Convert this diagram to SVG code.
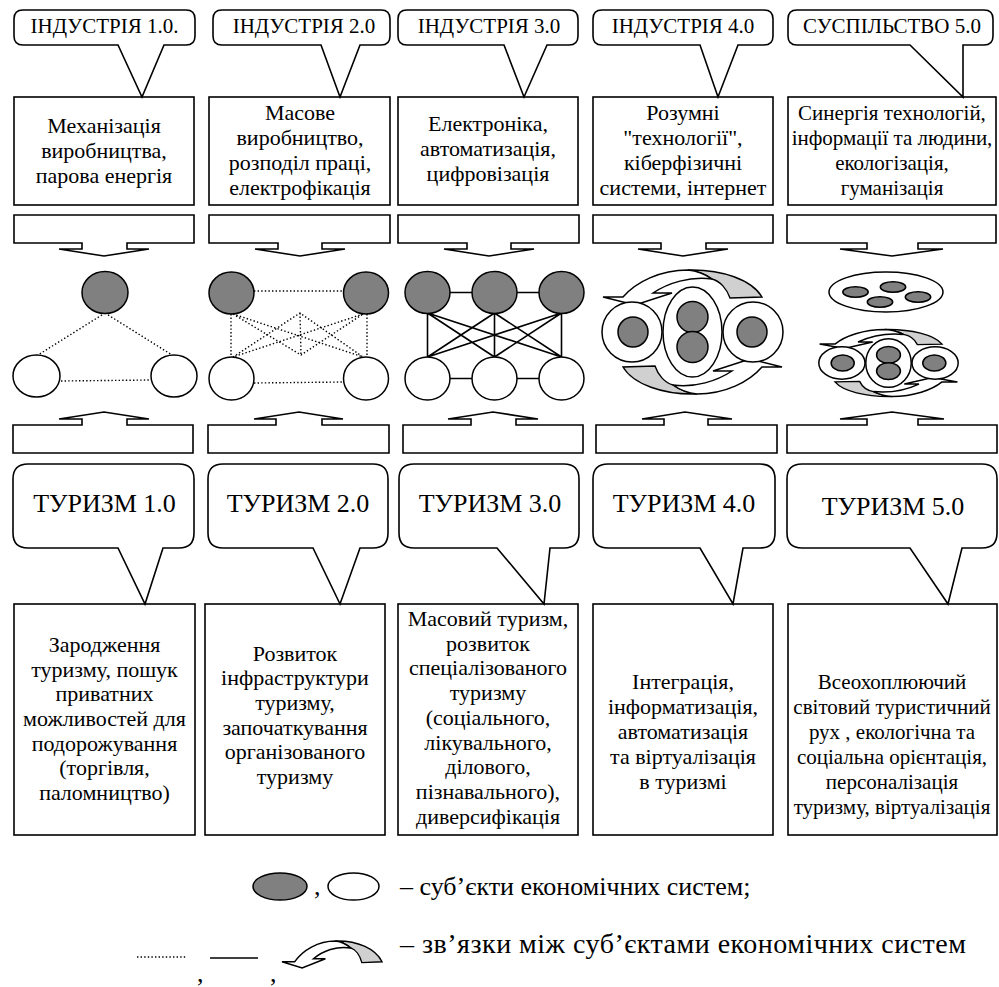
<svg xmlns="http://www.w3.org/2000/svg" xmlns:xlink="http://www.w3.org/1999/xlink" width="999" height="987" viewBox="0 0 999 987">
<style>
.b{fill:#fff;stroke:#000;stroke-width:1.6}
.g{fill:#808080;stroke:#000;stroke-width:1.5;vector-effect:non-scaling-stroke}
.w{fill:#fff;stroke:#000;stroke-width:1.5;vector-effect:non-scaling-stroke}
.lg{fill:#d0d0d0;stroke:#000;stroke-width:1.4;vector-effect:non-scaling-stroke}
.dot{stroke:#000;stroke-width:1.4;stroke-dasharray:1.4 2.2;fill:none}
.sol{stroke:#000;stroke-width:1.6;fill:none}
text{font-family:"Liberation Serif","Times New Roman",serif;fill:#000}
.t{font-size:22px;text-anchor:middle}
.t5{font-size:21px;text-anchor:middle}
.h{font-size:21px;text-anchor:middle}
.tz{font-size:26px;text-anchor:middle}
.lt{font-size:26px}
.lt2{font-size:28px}
</style>
<defs>
<g id="carrow">
<path class="lg" d="M688,270 C722,269 752,280 762,297 L730,298 C727,289 720,281 712,279 C705,274 697,271 688,270 Z"/>
<path class="w" d="M603,297 L635,305 L672,293 L653,293 C668,283 690,276 712,279 C705,274 697,271 688,270 C660,270 636,282 623,297 Z"/>
</g>
<g id="cyc">
<use xlink:href="#carrow"/>
<use xlink:href="#carrow" transform="rotate(180 692.5 332)"/>
<circle class="w" cx="632" cy="332" r="30"/>
<circle class="g" cx="633" cy="332" r="15"/>
<ellipse class="w" cx="692.5" cy="332" rx="29.5" ry="45"/>
<circle class="g" cx="692.5" cy="317" r="15.5"/>
<circle class="g" cx="692.5" cy="347" r="15.5"/>
<circle class="w" cx="753" cy="332" r="30"/>
<circle class="g" cx="752" cy="332" r="15"/>
</g>
</defs>

<g id="connectors">
<path class="b" d="M14,215 H194 V243 H127 V249 H149 L104,256 L59,249 H82 V243 H14 Z"/>
<path class="b" d="M209,215 H390 V243 H322 V249 H345 L300,256 L255,249 H278 V243 H209 Z"/>
<path class="b" d="M398,215 H579 V243 H511 V249 H534 L489,256 L444,249 H467 V243 H398 Z"/>
<path class="b" d="M593,215 H773 V243 H706 V249 H728 L683,256 L638,249 H661 V243 H593 Z"/>
<path class="b" d="M787,215 H996 V243 H918 V249 H943 L892,256 L840,249 H867 V243 H787 Z"/>
<path class="b" d="M13,453 H193 V425 H127 V419 H149 L104,412 L59,419 H82 V425 H13 Z"/>
<path class="b" d="M208,453 H389 V425 H322 V419 H343 L299,412 L254,419 H276 V425 H208 Z"/>
<path class="b" d="M403,453 H583 V425 H516 V419 H538 L493,412 L448,419 H471 V425 H403 Z"/>
<path class="b" d="M596,453 H777 V425 H708 V419 H732 L685,412 L642,419 H664 V425 H596 Z"/>
<path class="b" d="M787,453 H997 V425 H918 V419 H944 L892,412 L840,419 H867 V425 H787 Z"/>
</g>

<g id="ind1">
<rect class="b" x="14" y="97" width="180" height="108"/>
<path class="b" d="M23,10 H186 Q195,10 195,19 V36 Q195,45 186,45 H164 L142,97 L118,45 H23 Q14,45 14,36 V19 Q14,10 23,10 Z"/>
<text class="h" x="104.5" y="33">ІНДУСТРІЯ 1.0.</text>
<text class="t" x="104" y="133">Механізація</text>
<text class="t" x="104" y="158">виробництва,</text>
<text class="t" x="104" y="183">парова енергія</text>
</g>
<g id="ind2">
<rect class="b" x="209" y="97" width="181" height="108"/>
<path class="b" d="M222,10 H381 Q390,10 390,19 V36 Q390,45 381,45 H360 L340,97 L321,45 H222 Q213,45 213,36 V19 Q213,10 222,10 Z"/>
<text class="h" x="304" y="33">ІНДУСТРІЯ 2.0</text>
<text class="t" x="300" y="120">Масове</text>
<text class="t" x="300" y="145">виробництво,</text>
<text class="t" x="300" y="170">розподіл праці,</text>
<text class="t" x="300" y="195">електрофікація</text>
</g>
<g id="ind3">
<rect class="b" x="398" y="97" width="180" height="108"/>
<path class="b" d="M407,10 H569 Q578,10 578,19 V36 Q578,45 569,45 H547 L524,97 L504,45 H407 Q398,45 398,36 V19 Q398,10 407,10 Z"/>
<text class="h" x="489" y="33">ІНДУСТРІЯ 3.0</text>
<text class="t" x="488" y="131">Електроніка,</text>
<text class="t" x="488" y="156">автоматизація,</text>
<text class="t" x="488" y="181">цифровізація</text>
</g>
<g id="ind4">
<rect class="b" x="593" y="97" width="180" height="108"/>
<path class="b" d="M602,10 H764 Q773,10 773,19 V36 Q773,45 764,45 H738 L718,97 L700,45 H602 Q593,45 593,36 V19 Q593,10 602,10 Z"/>
<text class="h" x="683" y="33">ІНДУСТРІЯ 4.0</text>
<text class="t" x="683" y="120">Розумні</text>
<text class="t" x="683" y="145">"технології",</text>
<text class="t" x="683" y="170">кіберфізичні</text>
<text class="t" x="683" y="195">системи, інтернет</text>
</g>
<g id="soc5">
<rect class="b" x="788" y="97" width="208" height="108"/>
<path class="b" d="M797,10 H984 Q993,10 993,19 V36 Q993,45 984,45 H963 L963,97 L910,45 H797 Q788,45 788,36 V19 Q788,10 797,10 Z"/>
<text class="h" x="892" y="33">СУСПІЛЬСТВО 5.0</text>
<text class="t5" x="892" y="120">Синергія технологій,</text>
<text class="t5" x="892" y="145">інформації та людини,</text>
<text class="t5" x="892" y="170">екологізація,</text>
<text class="t5" x="892" y="195">гуманізація</text>
</g>

<g id="net1">
<line class="dot" x1="105" y1="313" x2="38" y2="355"/>
<line class="dot" x1="105" y1="313" x2="172" y2="355"/>
<line class="dot" x1="61" y1="381" x2="151" y2="380"/>
<ellipse class="g" cx="105" cy="292.5" rx="23" ry="21"/>
<ellipse class="w" cx="36.5" cy="376" rx="23.5" ry="21"/>
<ellipse class="w" cx="174" cy="376" rx="23" ry="21"/>
</g>
<g id="net2">
<line class="dot" x1="254" y1="291" x2="344" y2="291"/>
<line class="dot" x1="254" y1="383" x2="344" y2="382"/>
<line class="dot" x1="231" y1="314" x2="231" y2="357"/>
<line class="dot" x1="367" y1="314" x2="367" y2="357"/>
<line class="dot" x1="233" y1="314" x2="363" y2="357"/>
<line class="dot" x1="363" y1="314" x2="233" y2="357"/>
<polyline class="dot" points="233,357 300,313 363,357"/>
<polyline class="dot" points="233,314 301,355 363,314"/>
<line class="dot" x1="300" y1="313" x2="301" y2="355"/>
<ellipse class="g" cx="231.5" cy="293" rx="22.5" ry="21"/>
<ellipse class="g" cx="366" cy="293" rx="22.5" ry="21"/>
<ellipse class="w" cx="231.5" cy="378.5" rx="22.5" ry="21.5"/>
<ellipse class="w" cx="366" cy="378.5" rx="22.5" ry="21.5"/>
</g>
<g id="net3">
<path class="sol" d="M427.5,292.5 H561.5 M427.5,378.5 H561.5 M427.5,313 V357 M494.5,313 V357 M561.5,313 V357 M427.5,313 L494.5,357 M427.5,313 L561.5,357 M494.5,313 L427.5,357 M494.5,313 L561.5,357 M561.5,313 L427.5,357 M561.5,313 L494.5,357"/>
<ellipse class="g" cx="427.5" cy="292.5" rx="22.5" ry="21"/>
<ellipse class="g" cx="494.5" cy="292.5" rx="22.5" ry="21"/>
<ellipse class="g" cx="561.5" cy="292.5" rx="22.5" ry="21"/>
<ellipse class="w" cx="427.5" cy="378.5" rx="22.5" ry="21.5"/>
<ellipse class="w" cx="494.5" cy="378.5" rx="22.5" ry="21.5"/>
<ellipse class="w" cx="561.5" cy="378.5" rx="22.5" ry="21.5"/>
</g>
<g id="net4">
<use xlink:href="#cyc"/>
</g>
<g id="net5">
<ellipse class="w" cx="886" cy="292" rx="57" ry="20"/>
<ellipse class="g" cx="855.5" cy="292" rx="12.7" ry="5.3"/>
<ellipse class="g" cx="893" cy="287" rx="12.7" ry="5.3"/>
<ellipse class="g" cx="880" cy="302" rx="12.7" ry="5.3"/>
<ellipse class="g" cx="918" cy="297" rx="12.7" ry="5.3"/>
<use xlink:href="#cyc" transform="translate(888.5 363) scale(0.77 0.54) translate(-692.5 -332)"/>
</g>

<g id="tour1">
<rect class="b" x="14" y="604" width="181" height="231"/>
<path class="b" d="M28,464 H179 Q194,464 194,479 V533 Q194,548 179,548 H163 L145,604 L118,548 H28 Q13,548 13,533 V479 Q13,464 28,464 Z"/>
<text class="tz" x="104.5" y="512">ТУРИЗМ 1.0</text>
<text class="t" x="104.5" y="652">Зародження</text>
<text class="t" x="104.5" y="677">туризму, пошук</text>
<text class="t" x="104.5" y="701">приватних</text>
<text class="t" x="104.5" y="726">можливостей для</text>
<text class="t" x="104.5" y="751">подорожування</text>
<text class="t" x="104.5" y="775">(торгівля,</text>
<text class="t" x="104.5" y="800">паломництво)</text>
</g>
<g id="tour2">
<rect class="b" x="205" y="604" width="180" height="231"/>
<path class="b" d="M223,464 H373 Q388,464 388,479 V533 Q388,548 373,548 H360 L340,604 L313,548 H223 Q208,548 208,533 V479 Q208,464 223,464 Z"/>
<text class="tz" x="298" y="512">ТУРИЗМ 2.0</text>
<text class="t" x="295" y="661">Розвиток</text>
<text class="t" x="295" y="685">інфраструктури</text>
<text class="t" x="295" y="710">туризму,</text>
<text class="t" x="295" y="735">започаткування</text>
<text class="t" x="295" y="759">організованого</text>
<text class="t" x="295" y="784">туризму</text>
</g>
<g id="tour3">
<rect class="b" x="398" y="604" width="180" height="231"/>
<path class="b" d="M414,464 H564 Q579,464 579,479 V533 Q579,548 564,548 H550 L544,604 L497,548 H414 Q399,548 399,533 V479 Q399,464 414,464 Z"/>
<text class="tz" x="490" y="512">ТУРИЗМ 3.0</text>
<text class="t" x="488" y="626">Масовий туризм,</text>
<text class="t" x="488" y="651">розвиток</text>
<text class="t" x="488" y="675">спеціалізованого</text>
<text class="t" x="488" y="700">туризму</text>
<text class="t" x="488" y="725">(соціального,</text>
<text class="t" x="488" y="750">лікувального,</text>
<text class="t" x="488" y="774">ділового,</text>
<text class="t" x="488" y="799">пізнавального),</text>
<text class="t" x="488" y="824">диверсифікація</text>
</g>
<g id="tour4">
<rect class="b" x="593" y="604" width="180" height="231"/>
<path class="b" d="M608,464 H760 Q775,464 775,479 V533 Q775,548 760,548 H743 L733,604 L700,548 H608 Q593,548 593,533 V479 Q593,464 608,464 Z"/>
<text class="tz" x="684" y="512">ТУРИЗМ 4.0</text>
<text class="t" x="683" y="689">Інтеграція,</text>
<text class="t" x="683" y="714">інформатизація,</text>
<text class="t" x="683" y="739">автоматизація</text>
<text class="t" x="683" y="764">та віртуалізація</text>
<text class="t" x="683" y="789">в туризмі</text>
</g>
<g id="tour5">
<rect class="b" x="788" y="604" width="209" height="231"/>
<path class="b" d="M802,464 H982 Q997,464 997,479 V533 Q997,548 982,548 H962 L948,604 L910,548 H802 Q787,548 787,533 V479 Q787,464 802,464 Z"/>
<text class="tz" x="893" y="515">ТУРИЗМ 5.0</text>
<text class="t5" x="892" y="689">Всеохоплюючий</text>
<text class="t5" x="892" y="714">світовий туристичний</text>
<text class="t5" x="892" y="739">рух , екологічна та</text>
<text class="t5" x="892" y="764">соціальна орієнтація,</text>
<text class="t5" x="892" y="789">персоналізація</text>
<text class="t5" x="892" y="814">туризму, віртуалізація</text>
</g>

<g id="legend">
<ellipse class="g" cx="280" cy="886.5" rx="27" ry="13.5"/>
<text class="lt" x="314" y="895">,</text>
<ellipse class="w" cx="353.5" cy="886.5" rx="25.5" ry="13.5"/>
<text class="lt" x="400" y="895">– суб’єкти економічних систем;</text>
<line class="dot" x1="137" y1="957" x2="187" y2="957"/>
<line class="sol" x1="210" y1="958" x2="258" y2="958"/>
<text class="lt" x="197" y="982">,</text>
<text class="lt" x="270" y="982">,</text>
<use xlink:href="#carrow" transform="translate(282 941) scale(0.629 0.771) translate(-603 -270)"/>
<text class="lt2" x="400" y="953" textLength="566" lengthAdjust="spacing">– зв’язки між суб’єктами економічних систем</text>
</g>
</svg>
